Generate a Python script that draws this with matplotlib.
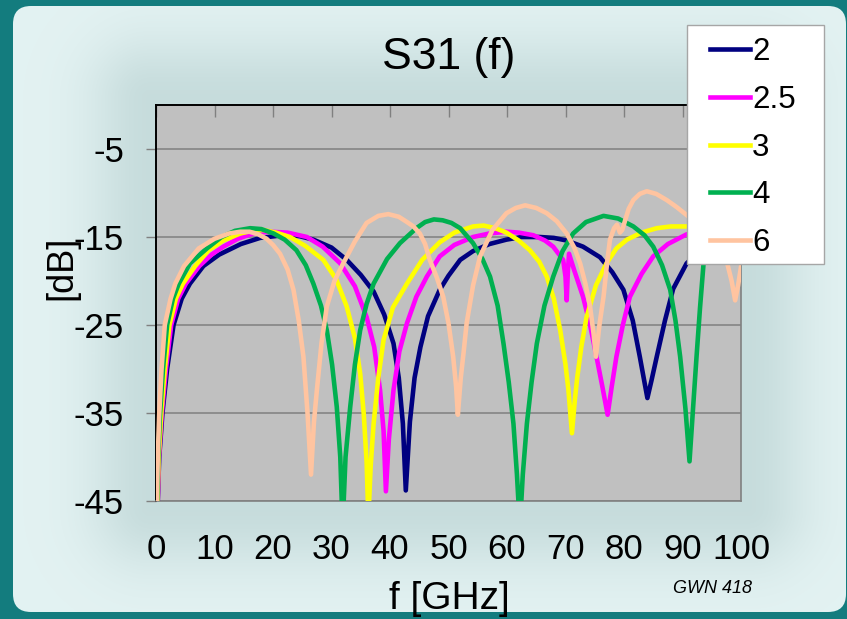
import numpy as np
import matplotlib
matplotlib.use('Agg')
import matplotlib.pyplot as plt
from matplotlib.patches import FancyBboxPatch, Rectangle
from matplotlib.lines import Line2D

plt.rcParams['font.family'] = ['Liberation Sans', 'DejaVu Sans']

# series: S31 in dB against frequency in GHz
labels = ['2', '2.5', '3', '4', '6']
colors = ['#000080', '#FF00FF', '#FFFF00', '#00B050', '#FFC4A0']

f_2 = [0.3, 0.55, 1.1, 1.9, 3.0, 4.4, 5.8, 8.1, 10.8, 14.5, 17.8, 21.7, 24.5, 26.9, 30.0,
       32.6, 35.0, 37.2, 39.0, 40.6, 41.5, 42.2, 42.7, 43.4, 44.2, 45.2, 46.5, 48.5, 50.0,
       52.0, 54.2, 57.0, 59.9, 62.5, 65.6, 68.0, 70.2, 73.0, 75.9, 78.0, 79.9, 81.5, 82.7,
       83.5, 84.0, 84.7, 85.6, 87.0, 88.4, 90.7, 93.0, 96.0, 100.0]
db_2 = [-45, -40, -35, -30.0, -25.0, -22.0, -20.3, -18.3, -17.0, -15.8, -15.1, -14.8, -14.9, -15.3, -16.2,
        -17.6, -19.3, -21.2, -23.8, -27.1, -31.0, -36.2, -43.8, -36.0, -31.0, -27.5, -24.0, -21.0, -19.4,
        -17.6, -16.6, -15.8, -15.3, -15.0, -15.0, -15.1, -15.4, -16.1, -17.3, -19.0, -21.0, -24.5, -28.6,
        -31.5, -33.3, -31.3, -28.6, -24.5, -20.9, -18.0, -16.5, -15.5, -15.0]

f_25 = [0.3, 0.5, 1.0, 1.7, 2.6, 3.8, 5.1, 7.4, 9.5, 11.5, 14.0, 16.6, 19.4, 22.5, 25.8,
        28.5, 31.5, 34.0, 36.0, 37.3, 38.3, 38.9, 39.3, 39.8, 40.6, 41.6, 42.9, 44.5, 46.3,
        48.5, 51.0, 54.2, 57.0, 59.9, 62.0, 64.5, 66.5, 67.9, 69.6, 70.0, 70.2, 70.4, 70.6,
        71.5, 73.0, 74.2, 75.3, 76.3, 77.2, 77.9, 78.7, 79.8, 81.0, 83.0, 85.0, 87.5, 90.7,
        94.0, 97.0, 100.0]
db_25 = [-45, -40, -35.0, -30.0, -25.0, -22.0, -20.3, -18.3, -17.0, -16.1, -15.2, -14.6, -14.4, -14.5, -15.0,
         -16.1, -18.0, -20.6, -24.1, -27.5, -32.4, -37.0, -43.9, -38.0, -32.4, -28.0, -24.8, -21.8, -19.5,
         -17.2, -15.9, -15.0, -14.6, -14.4, -14.5, -14.8, -15.4, -16.1, -17.6, -19.5, -22.2, -19.0, -16.9,
         -18.8, -21.8, -25.0, -28.6, -32.0, -35.2, -32.0, -28.6, -25.0, -21.8, -19.2, -17.2, -15.8, -14.7,
         -14.3, -14.2, -14.3]

f_3 = [0.25, 0.45, 0.9, 1.5, 2.3, 3.4, 4.6, 6.7, 9.0, 11.5, 14.4, 16.5, 18.3, 20.5, 22.9,
       25.5, 28.6, 30.8, 32.6, 34.0, 34.9, 35.5, 36.0, 36.3, 36.7, 37.2, 38.0, 38.9, 40.5,
       42.9, 45.5, 48.5, 51.0, 54.2, 56.0, 58.0, 59.9, 62.0, 63.9, 65.5, 66.8, 68.0, 69.1,
       70.0, 70.5, 71.1, 71.6, 72.0, 72.7, 73.6, 75.2, 77.0, 78.7, 80.5, 83.0, 85.6, 88.0,
       90.7, 94.0, 97.0, 100.0]
db_3 = [-45, -40, -35.0, -30.0, -25.0, -22.0, -20.3, -18.3, -16.5, -15.4, -14.6, -14.3, -14.2, -14.5, -15.0,
        -16.0, -17.6, -19.8, -22.9, -26.5, -30.5, -35.0, -40.5, -47.0, -41.0, -36.2, -31.0, -26.7, -23.0,
        -20.3, -17.6, -15.6, -14.5, -13.8, -13.7, -14.0, -14.5, -15.4, -16.5, -17.8, -19.5, -22.0, -25.6,
        -29.5, -32.4, -37.3, -33.5, -31.0, -27.5, -24.1, -20.5, -18.0, -16.3, -15.3, -14.5, -14.0, -13.8,
        -13.8, -13.8, -14.0, -14.3]

f_4 = [0.2, 0.35, 0.7, 1.2, 1.9, 2.9, 3.9, 5.8, 8.7, 11.2, 13.5, 16.1, 18.0, 20.1, 22.0,
       24.0, 25.6, 26.9, 28.2, 29.2, 30.1, 30.9, 31.5, 31.9, 32.4, 33.2, 34.0, 34.9, 36.0,
       37.2, 39.5, 41.7, 44.5, 46.0, 47.5, 49.0, 50.5, 52.0, 54.2, 55.8, 57.1, 58.4, 59.4,
       60.3, 61.1, 61.7, 62.2, 62.7, 63.4, 64.2, 65.1, 66.4, 67.9, 69.5, 71.3, 73.5, 76.5,
       79.0, 81.6, 83.5, 85.0, 86.5, 87.9, 88.8, 89.6, 90.5, 91.2, 91.8, 92.4, 93.0, 93.6,
       95.0, 97.0, 100.0]
db_4 = [-45, -40, -35.0, -30.0, -25.0, -22.0, -20.3, -18.0, -16.3, -15.0, -14.3, -14.0, -14.1, -14.6, -15.3,
        -16.5, -18.2, -20.3, -22.8, -25.6, -29.5, -34.3, -40.0, -48.0, -40.0, -34.3, -29.5, -25.6, -22.6,
        -20.3, -17.5, -15.7, -14.0, -13.3, -13.0, -13.1, -13.4, -14.0, -15.7, -17.5, -19.5, -22.8, -27.1,
        -31.5, -36.2, -42.0, -48.0, -42.0, -36.2, -31.5, -27.1, -22.8, -19.5, -16.6, -14.6, -13.3, -12.6,
        -12.9, -13.8, -14.8, -16.1, -18.2, -21.0, -24.5, -28.6, -34.5, -40.5, -34.5, -28.6, -23.0, -18.0,
        -15.2, -13.8, -13.0]

f_6 = [0.15, 0.3, 0.56, 0.95, 1.5, 2.5, 3.3, 4.8, 7.3, 10.0, 12.5, 14.4, 16.0, 17.5, 18.9, 20.0,
       21.2, 22.5, 23.5, 24.4, 25.2, 25.9, 26.5, 27.0, 27.5, 28.3, 29.2, 30.5, 32.0, 34.0,
       36.0, 38.0, 39.7, 41.5, 42.9, 44.0, 45.1, 46.0, 46.8, 48.0, 49.1, 50.0, 50.8, 51.3,
       51.6, 52.1, 52.6, 53.1, 54.2, 55.4, 57.5, 59.9, 61.5, 63.1, 65.0, 66.8, 68.5, 70.2,
       71.5, 72.5, 73.4, 74.2, 74.8, 75.2, 75.8, 76.5, 77.1, 77.6, 78.3, 78.8, 79.3, 79.7,
       80.2, 80.8, 81.6, 82.7, 83.9, 85.5, 87.3, 89.0, 90.7, 92.5, 94.0, 95.5, 97.5, 98.4,
       99.0, 99.5, 100.0]
db_6 = [-45, -40, -35, -30.0, -25.0, -22.0, -20.3, -18.3, -16.3, -15.2, -14.6, -14.4, -14.4, -14.7, -15.2, -15.9,
        -16.9, -18.7, -21.0, -24.5, -28.6, -35.0, -42.0, -36.0, -32.4, -27.0, -22.9, -20.0, -18.0, -15.5,
        -13.4, -12.6, -12.4, -12.7, -13.3, -13.8, -14.6, -15.8, -17.6, -19.6, -21.8, -24.8, -28.6, -32.0,
        -35.2, -31.0, -28.0, -24.8, -20.5, -17.2, -14.2, -12.3, -11.7, -11.4, -11.7, -12.3, -13.2, -14.6,
        -16.2, -18.0, -20.3, -22.9, -26.0, -28.6, -25.0, -21.8, -18.0, -15.3, -14.0, -13.6, -14.5, -14.2,
        -13.1, -11.8, -10.8, -10.1, -9.8, -10.1, -10.8, -11.6, -12.5, -13.5, -14.5, -15.8, -17.6, -20.0,
        -22.2, -20.5, -18.4]

freqs = [f_2, f_25, f_3, f_4, f_6]
s31 = [db_2, db_25, db_3, db_4, db_6]

x_ticks = [0, 10, 20, 30, 40, 50, 60, 70, 80, 90, 100]
y_ticks = [-5, -15, -25, -35, -45]

W, H = 847, 619
fig = plt.figure(figsize=(W / 100, H / 100), dpi=100, facecolor='#137C7E')

# light rounded panel with a soft shadow around the plot area
bg = fig.add_axes([0, 0, 1, 1])
bg.axis('off')
yy, xx = np.mgrid[0:H, 0:W] + 0.5
px0, px1, py0, py1 = 150, 748, 98, 508
dx = np.maximum(np.maximum(px0 - xx, xx - px1), 0)
dy = np.maximum(np.maximum(py0 - yy, yy - py1), 0)
shade = np.exp(-(np.hypot(dx, dy) / 60.0) ** 2)[..., None]
light = np.array([0.89, 0.95, 0.95])
dark = np.array([0.78, 0.865, 0.865])
img = light * (1 - shade) + dark * shade
panel = FancyBboxPatch((13, 6), 833, 606, boxstyle='round,pad=0,rounding_size=18',
                       facecolor='none', edgecolor='none', transform=bg.transData)
bg.add_patch(panel)
im = bg.imshow(img, extent=(0, W, H, 0), interpolation='bilinear', aspect='auto')
im.set_clip_path(panel)
bg.set_xlim(0, W)
bg.set_ylim(H, 0)

ax = fig.add_axes([156 / W, 1 - 501 / H, 585 / W, 396 / H])
ax.set_facecolor('#C0C0C0')
for f, db, c, lab in zip(freqs, s31, colors, labels):
    ax.plot(f, db, color=c, lw=3.3, label=lab, solid_joinstyle='round', zorder=3)

ax.set_xlim(0, 100)
ax.set_ylim(-45, 0)
ax.set_xticks(x_ticks)
ax.set_yticks(y_ticks)
ax.set_yticklabels([str(v) for v in y_ticks])
ax.yaxis.grid(True, color='#808080', lw=1.1)
ax.set_axisbelow(True)
ax.tick_params(axis='y', direction='out', length=7, width=1, color='#808080',
               labelsize=25, pad=16)
ax.tick_params(axis='x', top=True, bottom=False, labelbottom=True, direction='in',
               length=8.5, width=1, color='#808080', labelsize=25, pad=23)
for side in ['left', 'top']:
    ax.spines[side].set_color('black')
    ax.spines[side].set_linewidth(1.4)
for side in ['right', 'bottom']:
    ax.spines[side].set_color('#808080')
    ax.spines[side].set_linewidth(1.2)

fig.text(449 / W, 1 - 68.5 / H, 'S31 (f)', fontsize=32, ha='center', va='baseline')
fig.text(449 / W, 1 - 609 / H, 'f [GHz]', fontsize=28, ha='center', va='baseline')
fig.text(62 / W, 1 - 268 / H, '[dB]', fontsize=26, rotation=90, ha='center', va='center')
fig.text(712 / W, 1 - 593 / H, 'GWN 418', fontsize=13, style='italic', ha='center', va='baseline')

# legend box in the upper right corner
lx, ly, lw_, lh = 687, 25, 137, 239
fig.add_artist(Rectangle((lx / W, 1 - (ly + lh) / H), lw_ / W, lh / H, transform=fig.transFigure,
                         facecolor='white', edgecolor='#A6A6A6', lw=1.0, zorder=10))
for i, (lab, c) in enumerate(zip(labels, colors)):
    yc = 49.3 + 47.7 * i
    fig.add_artist(Line2D([710 / W, 750 / W], [1 - yc / H] * 2, color=c, lw=3.3,
                          transform=fig.transFigure, zorder=11))
    fig.text(752 / W, 1 - (yc + 11) / H, lab, fontsize=22.5, ha='left', va='baseline', zorder=11)

fig.savefig('out.png', dpi=100, facecolor=fig.get_facecolor())
